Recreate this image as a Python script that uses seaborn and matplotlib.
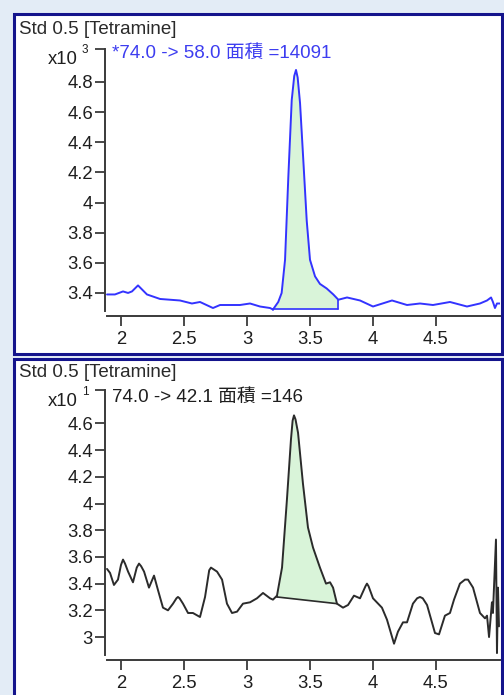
import numpy as np
import matplotlib
matplotlib.use("Agg")
import matplotlib.pyplot as plt
from matplotlib.patches import Rectangle
import seaborn as sns

# ---------------- data ----------------
title_text = "Std 0.5 [Tetramine]"

# panel 1 : 74.0 -> 58.0 (x10^3)
top_label = "*74.0 -> 58.0 面積 =14091"
top_time = [1.889, 1.952, 2.016, 2.056, 2.087, 2.135, 2.206, 2.310, 2.468, 2.563,
            2.627, 2.730, 2.786, 2.944, 3.024, 3.103, 3.183, 3.206, 3.248, 3.275,
            3.302, 3.328, 3.355, 3.375, 3.389, 3.402, 3.421, 3.447, 3.474, 3.500,
            3.540, 3.579, 3.632, 3.685, 3.725, 3.794, 3.897, 4.000, 4.151, 4.270,
            4.373, 4.476, 4.611, 4.746, 4.849, 4.905, 4.937, 4.952, 4.968, 4.984,
            5.008]
top_abund = [3.39, 3.39, 3.41, 3.40, 3.41, 3.45, 3.39, 3.36, 3.35, 3.33,
             3.34, 3.30, 3.32, 3.32, 3.33, 3.31, 3.30, 3.29, 3.34, 3.40,
             3.62, 4.17, 4.68, 4.84, 4.88, 4.83, 4.66, 4.28, 3.88, 3.62,
             3.51, 3.46, 3.43, 3.39, 3.355, 3.37, 3.35, 3.31, 3.35, 3.32,
             3.33, 3.32, 3.34, 3.31, 3.33, 3.35, 3.37, 3.34, 3.30, 3.33,
             3.33]
top_peak = (3.206, 3.725)
top_base = (3.292, 3.292)
top_yticks = [3.4, 3.6, 3.8, 4.0, 4.2, 4.4, 4.6, 4.8]
top_ylabels = ["3.4", "3.6", "3.8", "4", "4.2", "4.4", "4.6", "4.8"]
top_exp = "3"

# panel 2 : 74.0 -> 42.1 (x10^1)
bot_label = "74.0 -> 42.1 面積 =146"
bot_time = [1.889, 1.913, 1.944, 1.976, 2.000, 2.016, 2.032, 2.056, 2.095, 2.125,
            2.143, 2.160, 2.183, 2.222, 2.262, 2.294, 2.333, 2.373, 2.413, 2.440,
            2.452, 2.465, 2.492, 2.532, 2.571, 2.627, 2.667, 2.700, 2.714, 2.762,
            2.802, 2.841, 2.881, 2.921, 2.968, 3.024, 3.079, 3.127, 3.183, 3.206,
            3.238, 3.278, 3.317, 3.349, 3.362, 3.373, 3.385, 3.405, 3.444, 3.484,
            3.524, 3.579, 3.627, 3.659, 3.683, 3.714, 3.762, 3.802, 3.849, 3.897,
            3.940, 3.952, 3.965, 4.000, 4.071, 4.111, 4.167, 4.198, 4.238, 4.270,
            4.317, 4.350, 4.373, 4.395, 4.429, 4.492, 4.524, 4.571, 4.611, 4.643,
            4.690, 4.730, 4.754, 4.794, 4.849, 4.889, 4.905, 4.921, 4.944, 4.952,
            4.976, 4.984, 4.992, 5.000]
bot_abund = [3.51, 3.48, 3.39, 3.43, 3.54, 3.58, 3.55, 3.49, 3.41, 3.52,
             3.55, 3.53, 3.49, 3.37, 3.46, 3.35, 3.22, 3.20, 3.25, 3.29,
             3.30, 3.29, 3.25, 3.18, 3.18, 3.15, 3.30, 3.50, 3.52, 3.49,
             3.43, 3.25, 3.18, 3.19, 3.25, 3.26, 3.29, 3.33, 3.29, 3.28,
             3.31, 3.52, 4.03, 4.48, 4.62, 4.66, 4.63, 4.53, 4.15, 3.82,
             3.67, 3.52, 3.40, 3.41, 3.37, 3.25, 3.22, 3.24, 3.31, 3.29,
             3.38, 3.40, 3.38, 3.29, 3.22, 3.13, 2.95, 3.04, 3.11, 3.11,
             3.25, 3.29, 3.30, 3.29, 3.24, 3.03, 3.02, 3.16, 3.18, 3.28,
             3.40, 3.43, 3.43, 3.37, 3.18, 3.14, 3.16, 3.00, 3.26, 3.18,
             3.73, 2.88, 3.37, 3.08]
bot_peak = (3.238, 3.714)
bot_base = (3.30, 3.25)
bot_yticks = [3.0, 3.2, 3.4, 3.6, 3.8, 4.0, 4.2, 4.4, 4.6]
bot_ylabels = ["3", "3.2", "3.4", "3.6", "3.8", "4", "4.2", "4.4", "4.6"]
bot_exp = "1"

xticks = [2.0, 2.5, 3.0, 3.5, 4.0, 4.5]
xlabels = ["2", "2.5", "3", "3.5", "4", "4.5"]

# ---------------- style ----------------
sns.set_style("ticks")
FONT = ["Liberation Sans", "Noto Sans CJK JP", "DejaVu Sans"]
plt.rcParams["font.family"] = FONT
plt.rcParams["lines.solid_joinstyle"] = "round"
plt.rcParams["lines.solid_capstyle"] = "round"

W, H = 504, 695
BG = "#e3ecf6"
NAVY = "#14148c"
AXC = "#3a3a3a"
FILL = "#d9f4d9"

fig = plt.figure(figsize=(W / 100, H / 100), dpi=100, facecolor=BG)


def fx(px):
    return px / W


def fy(py):
    return 1 - py / H


def panel_box(top, bottom):
    r = Rectangle((fx(13.5), fy(bottom)), fx(501.5) - fx(13.5), fy(top) - fy(bottom),
                  transform=fig.transFigure, facecolor="white", edgecolor=NAVY,
                  linewidth=2.2, zorder=-5)
    fig.patches.append(r)


panel_box(13.5, 353.5)
panel_box(358.5, 720)


def make_panel(ax_top_px, ax_bot_px, ylim, yspine_low, time, abund, peak, base,
               end_vals, yticks, ylabels, color, label, label_color, exp,
               title_y, label_y, exp_y):
    ax = fig.add_axes([fx(105), fy(ax_bot_px), fx(500) - fx(105), fy(ax_top_px) - fy(ax_bot_px)])
    ax.set_facecolor("none")
    t = np.array(time)
    a = np.array(abund)
    # integrated peak fill
    m = (t >= peak[0]) & (t <= peak[1])
    bl = np.interp(t[m], list(peak), list(base))
    ax.fill_between(t[m], a[m], bl, color=FILL, linewidth=0, zorder=1)
    sns.lineplot(x=t, y=a, ax=ax, color=color, linewidth=1.4, sort=False,
                 estimator=None, zorder=3)
    ax.plot(list(peak), list(base), color=color, linewidth=1.2, zorder=3)
    ax.plot([peak[0], peak[0]], [base[0], end_vals[0]], color=color, linewidth=1.2, zorder=3)
    ax.plot([peak[1], peak[1]], [base[1], end_vals[1]], color=color, linewidth=1.2, zorder=3)

    ax.set_xlim(1.873, 5.008)
    ax.set_ylim(*ylim)
    ax.set_yticks(yticks + [ylim[1]])
    ax.set_yticklabels(ylabels + [""])
    ax.set_xticks(xticks)
    ax.set_xticklabels(xlabels)
    ax.set_xlabel("")
    ax.set_ylabel("")
    for s in ["top", "right"]:
        ax.spines[s].set_visible(False)
    ax.spines["left"].set_bounds(yspine_low, ylim[1])
    ax.spines["bottom"].set_bounds(1.889, 5.008)
    for s in ["left", "bottom"]:
        ax.spines[s].set_color(AXC)
        ax.spines[s].set_linewidth(1.4)
    ax.tick_params(axis="both", direction="out", length=7.2, width=1.3,
                   color=AXC, labelcolor="#1e1e1e", labelsize=13.3)
    ax.tick_params(axis="y", pad=1.5)
    ax.tick_params(axis="x", pad=3.4)
    for tl in ax.get_xticklabels() + ax.get_yticklabels():
        tl.set_family(FONT)

    fig.text(fx(19), fy(title_y), title_text, fontsize=13.5, color="#2a2a2a",
             ha="left", va="center", family=FONT)
    fig.text(fx(112), fy(label_y), label, fontsize=13.5, color=label_color,
             ha="left", va="center", family=FONT)
    fig.text(fx(78), fy(exp_y + 10), "x10", fontsize=13.3, color="#1e1e1e",
             ha="right", va="center", family=FONT)
    fig.text(fx(82), fy(exp_y), exp, fontsize=8.5, color="#1e1e1e",
             ha="left", va="center", family=FONT)
    return ax


make_panel(49, 316, (3.247, 5.019), 3.28, top_time, top_abund, top_peak, top_base,
           (3.29, 3.355), top_yticks, top_ylabels, "#3333ff", top_label, "#3d3df0",
           top_exp, title_y=30, label_y=53, exp_y=50)
make_panel(390, 660, (2.828, 4.850), 2.865, bot_time, bot_abund, bot_peak, bot_base,
           (3.31, 3.25), bot_yticks, bot_ylabels, "#2b2b2b", bot_label, "#1e1e1e",
           bot_exp, title_y=373, label_y=397, exp_y=392)

fig.savefig("out.png", dpi=100, facecolor=BG)
